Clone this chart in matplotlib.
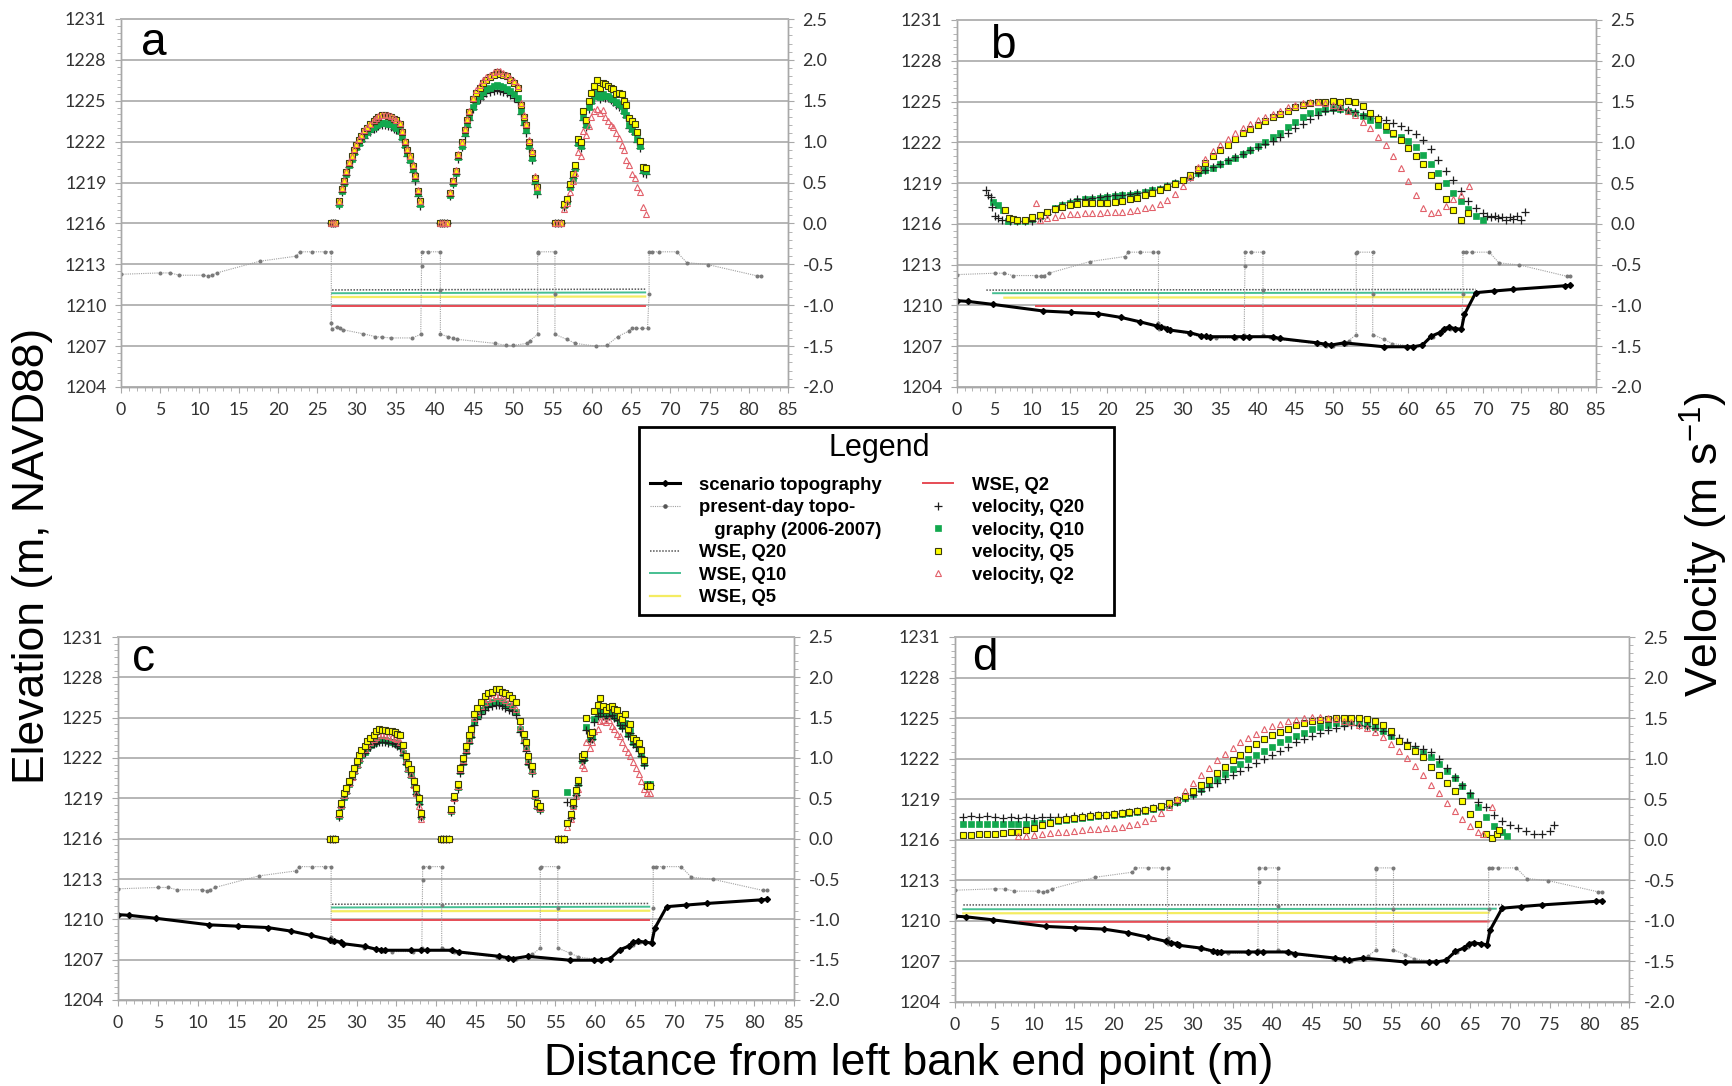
import numpy as np
import matplotlib
matplotlib.use("Agg")
import matplotlib.pyplot as plt
from matplotlib.lines import Line2D
from matplotlib.patches import Rectangle
from matplotlib.ticker import MultipleLocator, FormatStrFormatter

plt.rcParams['font.family'] = ['Lato', 'DejaVu Sans']
plt.rcParams['axes.unicode_minus'] = False
plt.rcParams['mathtext.fontset'] = 'custom'
plt.rcParams['mathtext.rm'] = 'Liberation Sans'
plt.rcParams['mathtext.it'] = 'Liberation Sans:italic'
plt.rcParams['mathtext.bf'] = 'Liberation Sans:bold'

############ ground profiles: (distance m, elevation m)
present_topo = [(0, 1212.27), (5.0, 1212.37), (6.25, 1212.37), (7.45, 1212.2), (10.5, 1212.2),
                (11.15, 1212.13), (11.55, 1212.2), (12.2, 1212.37), (17.7, 1213.23), (22.35, 1213.6),
                (22.75, 1213.92), (24.35, 1213.92), (26.05, 1213.92), (26.8, 1213.92), (26.8, 1208.7),
                (26.85, 1208.28), (27.5, 1208.4), (27.9, 1208.33), (28.3, 1208.2), (30.9, 1207.9),
                (32.4, 1207.7), (33.3, 1207.65), (34.4, 1207.6), (37.1, 1207.6), (38.2, 1207.86),
                (38.3, 1212.9), (38.3, 1213.92), (39.1, 1213.92), (40.7, 1213.92), (40.7, 1211.1),
                (40.7, 1207.86), (41.7, 1207.7), (42.3, 1207.6), (42.8, 1207.5), (47.7, 1207.2),
                (49.1, 1207.05), (50.0, 1207.05), (51.7, 1207.2), (52.1, 1207.4), (53.1, 1207.86),
                (53.1, 1213.85), (53.15, 1213.92), (55.3, 1213.92), (55.3, 1210.85), (55.3, 1207.86),
                (56.8, 1207.5), (57.9, 1207.2), (60.5, 1207.0), (61.9, 1207.05), (63.3, 1207.7),
                (64.7, 1208.1), (65.1, 1208.33), (65.6, 1208.3), (66.4, 1208.3), (67.1, 1208.3),
                (67.3, 1210.85), (67.3, 1213.92), (67.7, 1213.92), (68.5, 1213.92), (70.8, 1213.92),
                (72.1, 1213.13), (74.8, 1212.98), (81.1, 1212.15), (81.6, 1212.15)]

scenario_topo = [(0, 1210.35), (1.4, 1210.3), (4.75, 1210.08), (11.5, 1209.59), (15.1, 1209.49),
                 (18.8, 1209.39), (21.8, 1209.12), (24.3, 1208.8), (26.65, 1208.48), (27.2, 1208.4),
                 (28.0, 1208.3), (28.3, 1208.19), (31.0, 1207.99), (32.5, 1207.77), (33.1, 1207.72),
                 (33.6, 1207.7), (36.9, 1207.7), (38.1, 1207.7), (38.9, 1207.7), (42.0, 1207.7),
                 (42.9, 1207.57), (47.9, 1207.25), (49.0, 1207.15), (49.7, 1207.08), (51.5, 1207.25),
                 (56.8, 1206.96), (59.8, 1206.96), (60.7, 1206.96), (61.9, 1207.08), (63.1, 1207.74),
                 (64.2, 1208.0), (64.8, 1208.3), (65.4, 1208.38), (66.3, 1208.3), (67.1, 1208.24),
                 (67.5, 1209.34), (69.0, 1210.94), (71.4, 1211.06), (74.0, 1211.18), (80.9, 1211.45),
                 (81.6, 1211.48)]

############ water surface elevations
wse_ac_q20 = [(26.9, 1211.12), (66.8, 1211.18)]
wse_ac_q10 = [(26.9, 1210.88), (66.8, 1210.94)]
wse_ac_q5 = [(26.9, 1210.6), (66.8, 1210.64)]
wse_ac_q2 = [(26.9, 1209.97), (66.8, 1209.97)]

wse_b_q20 = [(3.9, 1211.13), (69.0, 1211.18)]
wse_b_q10 = [(4.8, 1210.9), (69.0, 1210.94)]
wse_b_q5 = [(6.3, 1210.57), (68.7, 1210.62)]
wse_b_q2 = [(10.5, 1209.98), (68.1, 1209.98)]

wse_d_q20 = [(1.05, 1211.18), (69.0, 1211.2)]
wse_d_q10 = [(1.05, 1210.86), (68.2, 1210.9)]
wse_d_q5 = [(1.05, 1210.56), (67.3, 1210.6)]
wse_d_q2 = [(8.2, 1209.92), (67.3, 1209.95)]

############ velocities over the three openings (panels a and c)
arc1_x = [26.7, 27.0, 27.3, 27.8, 28.1, 28.4, 28.7, 29.1, 29.4, 29.7, 30.0, 30.3, 30.6, 31.0, 31.3, 31.7, 32.2,
          32.5, 32.8, 33.2, 33.6, 34.0, 34.4, 34.8, 35.1, 35.5, 35.8, 36.2, 36.5, 36.8, 37.2, 37.5, 37.9, 38.1]
arc2_x = [40.6, 40.9, 41.2, 41.6, 41.9, 42.3, 42.7, 43.0, 43.4, 43.8, 44.1, 44.4, 44.8, 45.2, 45.7, 46.1, 46.5,
          47.0, 47.5, 47.9, 48.3, 48.7, 49.2, 49.6, 50.1, 50.6, 51.0, 51.3, 51.6, 52.0, 52.4, 52.7, 53.0]
arc3_x = [55.3, 55.7, 56.1, 56.5, 56.9, 57.2, 57.6, 57.8, 58.3, 58.6, 58.9, 59.3, 59.6, 59.9, 60.3, 60.6, 61.0,
          61.4, 61.7, 62.1, 62.4, 62.7, 63.1, 63.4, 63.8, 64.1, 64.4, 64.8, 65.1, 65.5, 65.8, 66.1, 66.5, 66.9]

a_q5_1 = [0, 0, 0, 0.27, 0.42, 0.52, 0.63, 0.74, 0.82, 0.9, 0.96, 1.02, 1.07, 1.13, 1.17, 1.21, 1.25, 1.28, 1.3,
          1.32, 1.32, 1.31, 1.3, 1.28, 1.26, 1.22, 1.12, 1.0, 0.9, 0.82, 0.7, 0.58, 0.4, 0.27]
a_q10_1 = [0, 0, 0, 0.24, 0.4, 0.5, 0.61, 0.71, 0.79, 0.87, 0.93, 0.98, 1.03, 1.08, 1.12, 1.15, 1.18, 1.2, 1.22,
           1.23, 1.23, 1.22, 1.21, 1.19, 1.17, 1.13, 1.06, 0.96, 0.86, 0.78, 0.66, 0.55, 0.37, 0.24]
a_q20_1 = [0, 0, 0, 0.22, 0.38, 0.48, 0.59, 0.69, 0.77, 0.85, 0.91, 0.96, 1.01, 1.05, 1.09, 1.12, 1.15, 1.17, 1.19,
           1.2, 1.2, 1.19, 1.18, 1.16, 1.14, 1.1, 1.03, 0.93, 0.83, 0.75, 0.63, 0.52, 0.34, 0.21]
a_q2_1 = [0, 0, 0, 0.27, 0.43, 0.53, 0.64, 0.75, 0.83, 0.91, 0.97, 1.03, 1.08, 1.14, 1.18, 1.22, 1.26, 1.29, 1.31,
          1.33, 1.33, 1.32, 1.31, 1.29, 1.27, 1.23, 1.13, 1.01, 0.91, 0.83, 0.71, 0.59, 0.41, 0.28]

a_q5_2 = [0, 0, 0, 0, 0.37, 0.52, 0.64, 0.84, 0.99, 1.14, 1.26, 1.36, 1.52, 1.6, 1.66, 1.72, 1.76, 1.79, 1.82,
          1.85, 1.83, 1.82, 1.8, 1.75, 1.72, 1.66, 1.45, 1.3, 1.2, 1.0, 0.86, 0.56, 0.44]
a_q10_2 = [0, 0, 0, 0, 0.35, 0.5, 0.62, 0.81, 0.95, 1.1, 1.21, 1.3, 1.43, 1.5, 1.56, 1.61, 1.64, 1.66, 1.68,
           1.69, 1.68, 1.67, 1.65, 1.62, 1.58, 1.53, 1.38, 1.24, 1.14, 0.95, 0.8, 0.52, 0.4]
a_q20_2 = [0, 0, 0, 0, 0.33, 0.48, 0.6, 0.79, 0.93, 1.07, 1.18, 1.27, 1.4, 1.47, 1.52, 1.56, 1.59, 1.61, 1.62,
           1.63, 1.62, 1.61, 1.6, 1.57, 1.54, 1.49, 1.34, 1.2, 1.1, 0.92, 0.77, 0.48, 0.36]
a_q2_2 = [0, 0, 0, 0, 0.38, 0.53, 0.65, 0.85, 1.0, 1.15, 1.28, 1.38, 1.54, 1.63, 1.69, 1.75, 1.79, 1.82, 1.85,
          1.87, 1.86, 1.84, 1.82, 1.78, 1.74, 1.68, 1.47, 1.32, 1.22, 1.02, 0.88, 0.58, 0.45]

a_q5_3 = [0, 0, 0, 0.24, 0.3, 0.48, 0.6, 0.72, 1.03, 1.0, 1.37, 1.27, 1.5, 1.6, 1.68, 1.75, 1.66, 1.72, 1.7,
          1.68, 1.66, 1.64, 1.58, 1.6, 1.58, 1.5, 1.45, 1.29, 1.25, 1.21, 1.12, 1.01, 0.69, 0.68]
a_q10_3 = [0, 0, 0, 0.22, 0.28, 0.45, 0.56, 0.68, 0.98, 0.95, 1.3, 1.2, 1.42, 1.5, 1.56, 1.6, 1.55, 1.58, 1.56,
           1.56, 1.54, 1.52, 1.48, 1.46, 1.44, 1.38, 1.33, 1.2, 1.16, 1.12, 1.03, 0.95, 0.65, 0.64]
a_q20_3 = [0, 0, 0, 0.2, 0.27, 0.44, 0.55, 0.66, 0.96, 0.92, 1.27, 1.18, 1.4, 1.47, 1.53, 1.57, 1.52, 1.55, 1.53,
           1.53, 1.51, 1.49, 1.45, 1.43, 1.41, 1.35, 1.3, 1.17, 1.13, 1.09, 1.0, 0.92, 0.62, 0.61]
a_q2_3 = [0, 0, 0, 0.18, 0.25, 0.38, 0.52, 0.62, 0.87, 0.82, 1.13, 1.08, 1.19, 1.3, 1.38, 1.4, 1.35, 1.39, 1.3,
          1.25, 1.2, 1.18, 1.1, 1.04, 0.96, 0.9, 0.78, 0.72, 0.6, 0.55, 0.45, 0.38, 0.2, 0.11]

c_q5_1 = [0, 0, 0, 0.32, 0.44, 0.56, 0.63, 0.72, 0.8, 0.88, 0.96, 1.04, 1.1, 1.15, 1.21, 1.25, 1.29, 1.33, 1.36,
          1.35, 1.35, 1.34, 1.33, 1.32, 1.3, 1.28, 1.16, 1.03, 0.93, 0.86, 0.72, 0.63, 0.5, 0.32]
c_q10_1 = [0, 0, 0, 0.28, 0.4, 0.52, 0.59, 0.68, 0.76, 0.84, 0.91, 0.98, 1.04, 1.08, 1.13, 1.16, 1.19, 1.21, 1.22,
           1.22, 1.22, 1.21, 1.2, 1.19, 1.17, 1.15, 1.06, 0.95, 0.86, 0.79, 0.66, 0.57, 0.45, 0.28]
c_q20_1 = [0, 0, 0, 0.27, 0.39, 0.5, 0.57, 0.66, 0.74, 0.82, 0.89, 0.96, 1.02, 1.06, 1.11, 1.14, 1.17, 1.19, 1.2,
           1.2, 1.2, 1.19, 1.18, 1.17, 1.15, 1.13, 1.04, 0.93, 0.84, 0.77, 0.64, 0.55, 0.43, 0.27]
c_q2_1 = [0, 0, 0, 0.3, 0.42, 0.54, 0.6, 0.69, 0.77, 0.85, 0.93, 1.0, 1.06, 1.11, 1.16, 1.2, 1.23, 1.26, 1.28,
          1.28, 1.28, 1.27, 1.26, 1.25, 1.23, 1.2, 1.1, 0.98, 0.88, 0.8, 0.66, 0.56, 0.41, 0.25]

c_q5_2 = [0, 0, 0, 0, 0.37, 0.53, 0.68, 0.88, 1.0, 1.15, 1.28, 1.36, 1.54, 1.62, 1.7, 1.77, 1.8, 1.82, 1.85,
          1.86, 1.82, 1.8, 1.78, 1.75, 1.7, 1.46, 1.3, 1.2, 1.02, 0.9, 0.57, 0.44, 0.4]
c_q10_2 = [0, 0, 0, 0, 0.34, 0.5, 0.64, 0.84, 0.95, 1.09, 1.21, 1.29, 1.45, 1.52, 1.59, 1.64, 1.67, 1.69, 1.71,
           1.71, 1.69, 1.67, 1.65, 1.62, 1.57, 1.36, 1.22, 1.12, 0.95, 0.84, 0.53, 0.41, 0.37]
c_q20_2 = [0, 0, 0, 0, 0.33, 0.48, 0.62, 0.82, 0.93, 1.06, 1.18, 1.26, 1.41, 1.48, 1.55, 1.6, 1.63, 1.64, 1.66,
           1.66, 1.64, 1.62, 1.6, 1.58, 1.53, 1.32, 1.19, 1.09, 0.92, 0.81, 0.5, 0.38, 0.35]
c_q2_2 = [0, 0, 0, 0, 0.35, 0.51, 0.65, 0.86, 0.97, 1.11, 1.24, 1.32, 1.49, 1.57, 1.64, 1.7, 1.73, 1.75, 1.77,
          1.77, 1.74, 1.72, 1.7, 1.66, 1.61, 1.39, 1.25, 1.14, 0.97, 0.85, 0.54, 0.42, 0.38]

c_q5_3 = [0, 0, 0, 0.2, 0.3, 0.45, 0.6, 0.73, 1.03, 1.05, 1.49, 1.3, 1.32, 1.58, 1.66, 1.74, 1.65, 1.6, 1.63,
          1.65, 1.61, 1.6, 1.52, 1.48, 1.55, 1.36, 1.42, 1.25, 1.22, 1.18, 1.1, 0.98, 0.65, 0.65]
c_q10_3 = [0, 0, 0, 0.58, 0.28, 0.42, 0.56, 0.69, 0.98, 1.0, 1.38, 1.24, 1.26, 1.48, 1.55, 1.6, 1.55, 1.52, 1.55,
           1.56, 1.52, 1.5, 1.44, 1.4, 1.44, 1.3, 1.34, 1.2, 1.17, 1.12, 1.05, 0.94, 0.68, 0.68]
c_q20_3 = [0, 0, 0, 0.45, 0.26, 0.4, 0.54, 0.67, 0.96, 0.97, 1.35, 1.21, 1.23, 1.45, 1.52, 1.56, 1.52, 1.49, 1.52,
           1.53, 1.49, 1.47, 1.41, 1.37, 1.41, 1.27, 1.31, 1.17, 1.14, 1.09, 1.02, 0.91, 0.66, 0.66]
c_q2_3 = [0, 0, 0, 0.15, 0.25, 0.4, 0.53, 0.62, 0.91, 0.88, 1.2, 1.13, 1.2, 1.33, 1.36, 1.46, 1.47, 1.45, 1.47,
          1.4, 1.36, 1.3, 1.27, 1.2, 1.13, 1.08, 1.03, 0.95, 0.88, 0.8, 0.72, 0.62, 0.57, 0.57]

############ velocities across the open channel (panels b and d): (distance m, velocity m/s)
b_q20 = [(3.9, .41), (4.1, .36), (4.5, .33), (4.6, .21), (5, .1), (5.5, .07), (6, .05), (7, .04), (8, .03),
         (9, .03), (10, .04), (11, .07), (12, .12), (13, .18), (14, .23), (15, .27), (16, .3), (17, .31),
         (18, .32), (19, .33), (20, .34), (21, .35), (22, .36), (23, .37), (24, .38), (25, .39), (26, .41),
         (27, .43), (28, .46), (29, .5), (30, .53), (31, .57), (32, .62), (33, .66), (34, .7), (35, .74),
         (36, .78), (37, .82), (38, .86), (39, .9), (40, .94), (41, .98), (42, 1.02), (43, 1.06), (44, 1.11),
         (45, 1.17), (46, 1.23), (47, 1.29), (48, 1.34), (49, 1.38), (50, 1.4), (51, 1.41), (52, 1.4),
         (53, 1.37), (54, 1.34), (55, 1.32), (56, 1.3), (57, 1.27), (58, 1.24), (59, 1.2), (60, 1.15),
         (61, 1.1), (62, 1.03), (63, .92), (64, .78), (65, .65), (66, .54), (67, .4), (68, .28), (69, .19),
         (70, .13), (70.5, .1), (71, .08), (71.5, .1), (72, .07), (72.5, .09), (73, .05), (73.5, .08),
         (74, .06), (74.5, .1), (75, .05), (75.5, .14)]
b_q10 = [(4.75, .27), (5.5, .23), (6.1, .17), (6.8, .04), (8, .03), (9, .04), (10, .06), (11, .1), (12, .14),
         (13, .19), (14, .23), (15, .26), (16, .28), (17, .3), (18, .31), (19, .32), (20, .33), (21, .34),
         (22, .35), (23, .36), (24, .37), (25, .39), (26, .41), (27, .43), (28, .46), (29, .5), (30, .54),
         (31, .58), (32, .62), (33, .66), (34, .69), (35, .73), (36, .77), (37, .81), (38, .86), (39, .9),
         (40, .95), (41, 1.0), (42, 1.06), (43, 1.12), (44, 1.19), (45, 1.25), (46, 1.31), (47, 1.36),
         (48, 1.39), (49, 1.41), (50, 1.42), (51, 1.41), (52, 1.39), (53, 1.36), (54, 1.32), (55, 1.27),
         (56, 1.21), (57, 1.15), (58, 1.1), (59, 1.06), (60, 1.02), (61, .94), (62, .85), (63, .74),
         (64, .62), (65, .5), (66, .38), (67, .28), (68, .18), (69, .1), (70, .05)]
b_q5 = [(6.4, .17), (6.9, .07), (7.5, .06), (8, .05), (9, .05), (10, .08), (11, .11), (12, .15), (13, .18),
        (14, .21), (15, .23), (16, .24), (17, .25), (18, .25), (19, .26), (20, .26), (21, .27), (22, .28),
        (23, .3), (24, .32), (25, .35), (26, .38), (27, .41), (28, .45), (29, .49), (30, .54), (31, .6),
        (32, .67), (33, .75), (34, .83), (35, .9), (36, .97), (37, 1.04), (38, 1.11), (39, 1.16), (40, 1.21),
        (41, 1.26), (42, 1.31), (43, 1.35), (44, 1.39), (45, 1.43), (46, 1.46), (47, 1.48), (48, 1.5),
        (49, 1.5), (50, 1.51), (51, 1.5), (52, 1.51), (53, 1.49), (54, 1.44), (55, 1.36), (56, 1.28),
        (57, 1.2), (58, 1.12), (59, 1.03), (60, .93), (61, .83), (62, .73), (63, .6), (64, .46), (65, .31),
        (66, .17), (67, .05), (68, .13)]
b_q2 = [(10.5, .25), (11, .05), (12, .07), (13, .09), (14, .11), (15, .12), (16, .12), (17, .13), (18, .13),
        (19, .13), (20, .14), (21, .14), (22, .15), (23, .16), (24, .17), (25, .19), (26, .21), (27, .24),
        (28, .29), (29, .37), (30, .47), (31, .58), (32, .7), (33, .8), (34, .89), (35, .97), (36, 1.04),
        (37, 1.11), (38, 1.17), (39, 1.22), (40, 1.27), (41, 1.31), (42, 1.35), (43, 1.39), (44, 1.43),
        (45, 1.46), (46, 1.48), (47, 1.5), (48, 1.5), (49, 1.48), (50, 1.46), (51, 1.43), (52, 1.39),
        (53, 1.33), (54, 1.25), (55, 1.17), (56, 1.07), (57, .97), (58, .83), (59, .68), (60, .52),
        (61, .36), (62, .2), (63, .13), (64, .14), (65, .22), (66, .3), (67, .36), (68.1, .47)]

d_q20 = [(1, .28), (2, .29), (3, .28), (4, .29), (5, .28), (6, .27), (7, .28), (8, .27), (9, .28), (10, .27),
         (11, .28), (12, .28), (13, .28), (14, .28), (15, .29), (16, .29), (17, .3), (18, .3), (19, .31),
         (20, .32), (21, .33), (22, .34), (23, .35), (24, .37), (25, .39), (26, .41), (27, .44), (28, .47),
         (29, .51), (30, .55), (31, .6), (32, .65), (33, .7), (34, .75), (35, .8), (36, .85), (37, .9),
         (38, .95), (39, 1.0), (40, 1.05), (41, 1.1), (42, 1.15), (43, 1.2), (44, 1.24), (45, 1.28),
         (46, 1.32), (47, 1.35), (48, 1.38), (49, 1.4), (50, 1.41), (51, 1.41), (52, 1.4), (53, 1.38),
         (54, 1.34), (55, 1.29), (56, 1.25), (57, 1.2), (58, 1.16), (59, 1.12), (60, 1.08), (61, 1.0),
         (62, .89), (63, .78), (64, .68), (65, .58), (66, .47), (67, .41), (68, .31), (69, .23), (70, .18),
         (71, .14), (72, .11), (73, .07), (74, .07), (75, .11), (75.5, .18)]
d_q10 = [(1, .2), (2, .19), (3, .2), (4, .19), (5, .2), (6, .19), (7, .2), (8, .2), (9, .2), (10, .21),
         (11, .21), (12, .22), (13, .23), (14, .24), (15, .26), (16, .27), (17, .28), (18, .29), (19, .3),
         (20, .31), (21, .32), (22, .33), (23, .34), (24, .36), (25, .38), (26, .4), (27, .43), (28, .47),
         (29, .52), (30, .57), (31, .63), (32, .69), (33, .75), (34, .81), (35, .87), (36, .93), (37, .99),
         (38, 1.05), (39, 1.1), (40, 1.15), (41, 1.2), (42, 1.24), (43, 1.28), (44, 1.32), (45, 1.36),
         (46, 1.39), (47, 1.42), (48, 1.44), (49, 1.45), (50, 1.45), (51, 1.44), (52, 1.42), (53, 1.39),
         (54, 1.34), (55, 1.28), (56, 1.22), (57, 1.16), (58, 1.11), (59, 1.07), (60, 1.02), (61, .93),
         (62, .85), (63, .76), (64, .66), (65, .55), (66, .4), (67, .28), (68, .17), (69, .09), (69.6, .05)]
d_q5 = [(1, .06), (2, .06), (3, .07), (4, .07), (5, .07), (6, .08), (7, .09), (8, .1), (9, .12), (10, .15),
        (11, .18), (12, .21), (13, .24), (14, .26), (15, .27), (16, .28), (17, .29), (18, .3), (19, .31),
        (20, .32), (21, .33), (22, .34), (23, .35), (24, .37), (25, .39), (26, .42), (27, .45), (28, .49),
        (29, .54), (30, .6), (31, .67), (32, .74), (33, .82), (34, .9), (35, .98), (36, 1.05), (37, 1.12),
        (38, 1.18), (39, 1.24), (40, 1.29), (41, 1.33), (42, 1.37), (43, 1.41), (44, 1.44), (45, 1.46),
        (46, 1.48), (47, 1.49), (48, 1.5), (49, 1.5), (50, 1.5), (51, 1.5), (52, 1.49), (53, 1.47),
        (54, 1.42), (55, 1.34), (56, 1.22), (57, 1.16), (58, 1.1), (59, 1.02), (60, .9), (61, .8), (62, .7),
        (63, .6), (64, .48), (65, .32), (66, .2), (67, .07), (67.7, .02), (68.3, .07), (68.6, .12)]
d_q2 = [(8, .05), (9, .05), (10, .06), (11, .07), (12, .08), (13, .09), (14, .1), (15, .11), (16, .12),
        (17, .13), (18, .13), (19, .14), (20, .15), (21, .16), (22, .18), (23, .2), (24, .23), (25, .27),
        (26, .33), (27, .41), (28, .5), (29, .6), (30, .7), (31, .8), (32, .89), (33, .98), (34, 1.06),
        (35, 1.13), (36, 1.2), (37, 1.26), (38, 1.31), (39, 1.36), (40, 1.4), (41, 1.43), (42, 1.46),
        (43, 1.48), (44, 1.5), (45, 1.51), (46, 1.51), (47, 1.5), (48, 1.49), (49, 1.47), (50, 1.45),
        (51, 1.42), (52, 1.38), (53, 1.33), (54, 1.27), (55, 1.18), (56, 1.1), (57, 1.01), (58, .91),
        (59, .8), (60, .68), (61, .58), (62, .45), (63, .35), (64, .26), (65, .17), (66, .1), (66.6, .07),
        (67.7, .4)]

xticks = list(range(0, 90, 5))
elev_ticks = list(range(1204, 1232, 3))

GRID = '#b5b5b5'
AXC = '#a8a8a8'
GREEN = '#12a84e'
RED = '#e2606a'
C_W10 = '#46bf92'
C_W5 = '#f4ec62'
C_W2 = '#e64c55'

STY = {
    'q20': dict(ls='none', marker='+', ms=6.2, mew=0.9, color='#1e1e1e', zorder=3),
    'q10': dict(ls='none', marker='s', ms=4.5, mfc=GREEN, mec=GREEN, mew=0.5, zorder=3),
    'q5': dict(ls='none', marker='s', ms=4.9, mfc='#ffff00', mec='#3b3b10', mew=0.8, zorder=3),
    'q2': dict(ls='none', marker='^', ms=4.8, mfc='none', mec=RED, mew=0.8, zorder=3),
}


def xy(pairs):
    arr = np.array(pairs, dtype=float)
    return arr[:, 0], arr[:, 1]


def make_panel(rect, letter, lx, ly):
    ax = fig.add_axes(rect)
    ax.set_xlim(0, 85)
    ax.set_ylim(1204, 1231)
    ax.set_xticks(xticks)
    ax.set_yticks(elev_ticks)
    ax.xaxis.set_minor_locator(MultipleLocator(1))
    ax.yaxis.set_minor_locator(MultipleLocator(0.5))
    ax.grid(axis='y', which='major', color=GRID, lw=1.4)
    ax.set_axisbelow(True)
    ax2 = ax.twinx()
    ax2.set_ylim(-2.0, 2.5)
    ax2.yaxis.set_major_locator(MultipleLocator(0.5))
    ax2.yaxis.set_minor_locator(MultipleLocator(0.1))
    ax2.yaxis.set_major_formatter(FormatStrFormatter('%.1f'))
    for a in (ax, ax2):
        for s in a.spines.values():
            s.set_color(AXC)
            s.set_linewidth(1.0)
        a.spines['top'].set_color(GRID)
        a.spines['top'].set_linewidth(1.4)
        a.tick_params(which='major', length=4, width=0.8, color=AXC, labelsize=12.8,
                      labelcolor='#333333', pad=6.5)
        a.tick_params(which='minor', length=3, width=0.6, color=AXC)
    ax.text(lx, ly, letter, transform=ax.transAxes, fontsize=33, family='Liberation Sans',
            ha='left', va='baseline')
    return ax, ax2


def draw_ground(ax, scenario):
    px, pe = xy(present_topo)
    ax.plot(px, pe, color='#a0a0a0', ls=(0, (1, 1)), lw=0.8, marker='o', ms=1.9,
            mfc='#7a7a7a', mec='#7a7a7a', zorder=3)
    if scenario:
        sx, se = xy(scenario_topo)
        ax.plot(sx, se, color='black', lw=2.2, marker='D', ms=3.0, zorder=4)


def draw_wse(ax, q20, q10, q5, q2):
    ax.plot(*xy(q20), color='#555555', ls=(0, (1, 1)), lw=1.1, zorder=2)
    ax.plot(*xy(q10), color=C_W10, lw=1.4, zorder=2)
    ax.plot(*xy(q5), color=C_W5, lw=1.6, zorder=2)
    ax.plot(*xy(q2), color=C_W2, lw=1.4, zorder=2)


fig = plt.figure(figsize=(17.32, 10.86), dpi=100)

W, H = 1732.0, 1086.0
ax_a, va = make_panel([121 / W, 1 - 387 / H, 667 / W, 368 / H], 'a', 0.03, 0.902)
ax_b, vb = make_panel([957 / W, 1 - 387 / H, 639 / W, 367 / H], 'b', 0.052, 0.896)
ax_c, vc = make_panel([118 / W, 1 - 1000 / H, 676 / W, 363 / H], 'c', 0.02, 0.906)
ax_d, vd = make_panel([955 / W, 1 - 1002 / H, 674 / W, 365 / H], 'd', 0.026, 0.91)

# panel a: present-day ground, openings
draw_ground(ax_a, False)
draw_wse(ax_a, wse_ac_q20, wse_ac_q10, wse_ac_q5, wse_ac_q2)
arcs_x = [arc1_x, arc2_x, arc3_x]
for key, runs in [('q20', [a_q20_1, a_q20_2, a_q20_3]), ('q10', [a_q10_1, a_q10_2, a_q10_3]),
                  ('q5', [a_q5_1, a_q5_2, a_q5_3]), ('q2', [a_q2_1, a_q2_2, a_q2_3])]:
    for xs, vs in zip(arcs_x, runs):
        va.plot(xs, vs, **STY[key])

# panel c: scenario ground, openings
draw_ground(ax_c, True)
draw_wse(ax_c, wse_ac_q20, wse_ac_q10, wse_ac_q5, wse_ac_q2)
for key, runs in [('q10', [c_q10_1, c_q10_2, c_q10_3]), ('q20', [c_q20_1, c_q20_2, c_q20_3]),
                  ('q2', [c_q2_1, c_q2_2, c_q2_3]), ('q5', [c_q5_1, c_q5_2, c_q5_3])]:
    for xs, vs in zip(arcs_x, runs):
        vc.plot(xs, vs, **STY[key])

# panels b and d: open channel
draw_ground(ax_b, True)
draw_wse(ax_b, wse_b_q20, wse_b_q10, wse_b_q5, wse_b_q2)
for key, data in [('q10', b_q10), ('q20', b_q20), ('q5', b_q5), ('q2', b_q2)]:
    vb.plot(*xy(data), **STY[key])

draw_ground(ax_d, True)
draw_wse(ax_d, wse_d_q20, wse_d_q10, wse_d_q5, wse_d_q2)
for key, data in [('q10', d_q10), ('q20', d_q20), ('q5', d_q5), ('q2', d_q2)]:
    vd.plot(*xy(data), **STY[key])

# shared axis titles
big = dict(fontsize=32, family='Liberation Sans', ha='center', va='center')
fig.text(33 / W, 1 - 556 / H, 'Elevation (m, NAVD88)', rotation=90, **big)
fig.text(1704 / W, 1 - 544 / H, 'Velocity (m s$^{-1}$)', rotation=90, **big)
fig.text(909 / W, 1 - 1063 / H, 'Distance from left bank end point (m)', **big)

# legend box in the middle
fig.add_artist(Rectangle((639 / W, 1 - 615 / H), 475 / W, 188 / H, transform=fig.transFigure,
                         fill=False, ec='black', lw=2))
fig.text(879 / W, 1 - 448 / H, 'Legend', fontsize=22, family='Liberation Sans', ha='center', va='center')

left_handles = [
    Line2D([], [], color='black', lw=2.2, marker='D', ms=3.0),
    Line2D([], [], color='#a0a0a0', ls=(0, (1, 1)), lw=0.8, marker='o', ms=2.3, mfc='#555555', mec='#555555'),
    Line2D([], [], ls='none'),
    Line2D([], [], color='#555555', ls=(0, (1, 1)), lw=1.1),
    Line2D([], [], color=C_W10, lw=1.4),
    Line2D([], [], color=C_W5, lw=1.6),
]
left_labels = ['scenario topography', 'present-day topo-', '   graphy (2006-2007)',
               'WSE, Q20', 'WSE, Q10', 'WSE, Q5']
right_handles = [
    Line2D([], [], color=C_W2, lw=1.4),
    Line2D([], [], **{k: v for k, v in STY['q20'].items() if k != 'zorder'}),
    Line2D([], [], **{k: v for k, v in STY['q10'].items() if k != 'zorder'}),
    Line2D([], [], **{k: v for k, v in STY['q5'].items() if k != 'zorder'}),
    Line2D([], [], **{k: v for k, v in STY['q2'].items() if k != 'zorder'}),
]
right_labels = ['WSE, Q2', 'velocity, Q20', 'velocity, Q10', 'velocity, Q5', 'velocity, Q2']

leg_kw = dict(frameon=False, prop=dict(family='Liberation Sans', weight='bold', size=13.3),
              borderpad=0, borderaxespad=0, handlelength=1.65, handletextpad=1.0,
              labelspacing=0.3, numpoints=1, loc='upper left')
fig.legend(left_handles, left_labels, bbox_to_anchor=(650 / W, 1 - 476.5 / H), **leg_kw)
fig.legend(right_handles, right_labels, bbox_to_anchor=(923 / W, 1 - 476.5 / H), **leg_kw)

fig.savefig('out.png', dpi=100)
